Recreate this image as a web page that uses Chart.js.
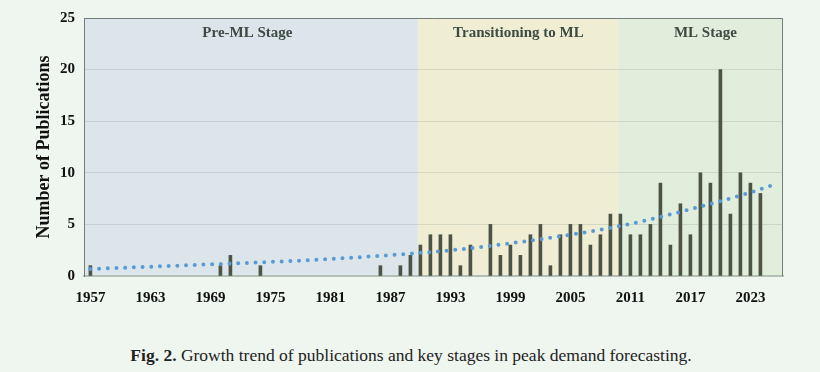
<!DOCTYPE html>
<html lang="en">
<head>
    <meta charset="UTF-8">
    <title>Publications by year</title>
    <style type="text/css">
        body {
            margin: 0;
            background: #eff6ef;
            width: 820px;
            height: 372px;
            overflow: hidden;
        }
        .chartBox {
            width: 820px;
            height: 320px;
        }
        .caption {
            position: absolute;
            top: 345px;
            left: 0;
            width: 822px;
            text-align: center;
            font-family: "Liberation Serif", serif;
            font-size: 17.5px;
            color: #222;
        }
    </style>
</head>
<body>
    <div class="chartBox">
        <canvas id="myChart"></canvas>
    </div>
    <div class="caption"><b>Fig. 2.</b> Growth trend of publications and key stages in peak demand forecasting.</div>

    <script src="https://cdn.jsdelivr.net/npm/chart.js"></script>

    <script>
        // publications per year (years with zero are left out)
        const years = [1957, 1970, 1971, 1974, 1986, 1988, 1989,
            1990, 1991, 1992, 1993, 1994, 1995, 1997, 1998, 1999, 2000,
            2001, 2002, 2003, 2004, 2005, 2006, 2007, 2008, 2009, 2010,
            2011, 2012, 2013, 2014, 2015, 2016, 2017, 2018, 2019, 2020,
            2021, 2022, 2023, 2024];
        const pubs = [1, 1, 2, 1, 1, 1, 2,
            3, 4, 4, 4, 1, 3, 5, 2, 3, 2,
            4, 5, 1, 4, 5, 5, 3, 4, 6, 6,
            4, 4, 5, 9, 3, 7, 4, 10, 9, 20,
            6, 10, 9, 8];

        // dotted trend line
        const trendYears = [1957, 1969, 1975, 1981, 1987, 1993, 1999, 2005, 2011, 2017, 2023, 2025.2];
        const trendVals = [0.68, 1.13, 1.36, 1.65, 2.03, 2.49, 3.17, 4.0, 5.05, 6.47, 8.09, 8.8];

        const tickYears = [1957, 1963, 1969, 1975, 1981, 1987, 1993, 1999, 2005, 2011, 2017, 2023];

        // stages
        const stageNames = ['Pre-ML Stage', 'Transitioning to ML', 'ML Stage'];
        const stageStart = [1956.36, 1989.75, 2009.8];
        const stageEnd = [1989.75, 2009.8, 2026.26];
        const stageLabelAt = [1972.7, 1999.8, 2018.5];
        const stageColors = ['#dbe5ea', '#efeed5', '#e1eedc'];

        const serif = '"Liberation Serif", "Times New Roman", serif';

        const stagePlugin = {
            id: 'stages',
            beforeDraw(chart) {
                const {ctx, chartArea: a, scales: {x}} = chart;
                ctx.save();
                for (let i = 0; i < stageNames.length; i++) {
                    const x0 = x.getPixelForValue(stageStart[i]);
                    const x1 = x.getPixelForValue(stageEnd[i]);
                    ctx.fillStyle = stageColors[i];
                    ctx.fillRect(x0, a.top, x1 - x0, a.bottom - a.top);
                }
                ctx.restore();
            },
            afterDatasetsDraw(chart) {
                const {ctx, chartArea: a, scales: {x}} = chart;
                ctx.save();
                ctx.font = 'bold 15px ' + serif;
                ctx.fillStyle = '#3e4b43';
                ctx.textAlign = 'center';
                ctx.textBaseline = 'middle';
                for (let i = 0; i < stageNames.length; i++) {
                    ctx.fillText(stageNames[i], x.getPixelForValue(stageLabelAt[i]), a.top + 15);
                }
                // frame on top and right
                ctx.strokeStyle = '#737d77';
                ctx.lineWidth = 1;
                ctx.beginPath();
                ctx.moveTo(a.left, a.top + 0.5);
                ctx.lineTo(a.right - 0.5, a.top + 0.5);
                ctx.lineTo(a.right - 0.5, a.bottom);
                ctx.stroke();
                ctx.restore();
            }
        };

        const ctx = document.getElementById('myChart');
        new Chart(ctx, {
            data: {
                datasets: [{
                    type: 'line',
                    data: trendYears.map((y, i) => ({x: y, y: trendVals[i]})),
                    borderColor: '#5b9bd5',
                    borderWidth: 4,
                    borderDash: [0, 8.7],
                    borderCapStyle: 'round',
                    cubicInterpolationMode: 'monotone',
                    pointRadius: 0,
                    order: 0
                }, {
                    type: 'bar',
                    data: years.map((y, i) => ({x: y, y: pubs[i]})),
                    backgroundColor: '#4d5446',
                    barThickness: 3,
                    order: 1
                }]
            },
            options: {
                responsive: true,
                maintainAspectRatio: false,
                animation: false,
                layout: {
                    padding: {left: 0, right: 37, top: 17, bottom: 0}
                },
                plugins: {
                    legend: {display: false},
                    tooltip: {enabled: false}
                },
                scales: {
                    x: {
                        type: 'linear',
                        offset: false,
                        min: 1956.36,
                        max: 2026.26,
                        afterBuildTicks(scale) {
                            scale.ticks = tickYears.map(v => ({value: v}));
                        },
                        afterFit(scale) {
                            scale.height = 44;
                        },
                        grid: {display: false, offset: false},
                        border: {color: '#b5bfb8', width: 2},
                        ticks: {
                            padding: 5,
                            maxRotation: 0,
                            autoSkip: false,
                            color: '#111',
                            font: {family: serif, size: 15, weight: 'bold'},
                            callback: v => String(v)
                        }
                    },
                    y: {
                        min: 0,
                        max: 25,
                        afterFit(scale) {
                            scale.width = 84;
                        },
                        grid: {
                            color: 'rgba(120,140,130,0.22)',
                            drawTicks: false
                        },
                        border: {color: '#737d77', width: 1},
                        ticks: {
                            stepSize: 5,
                            padding: 9,
                            color: '#111',
                            font: {family: serif, size: 15, weight: 'bold'}
                        },
                        title: {
                            display: true,
                            text: 'Number of Publications',
                            color: '#111',
                            padding: {top: 34, bottom: 0},
                            font: {family: serif, size: 18, weight: 'bold'}
                        }
                    }
                }
            },
            plugins: [stagePlugin]
        });
    </script>
</body>
</html>
